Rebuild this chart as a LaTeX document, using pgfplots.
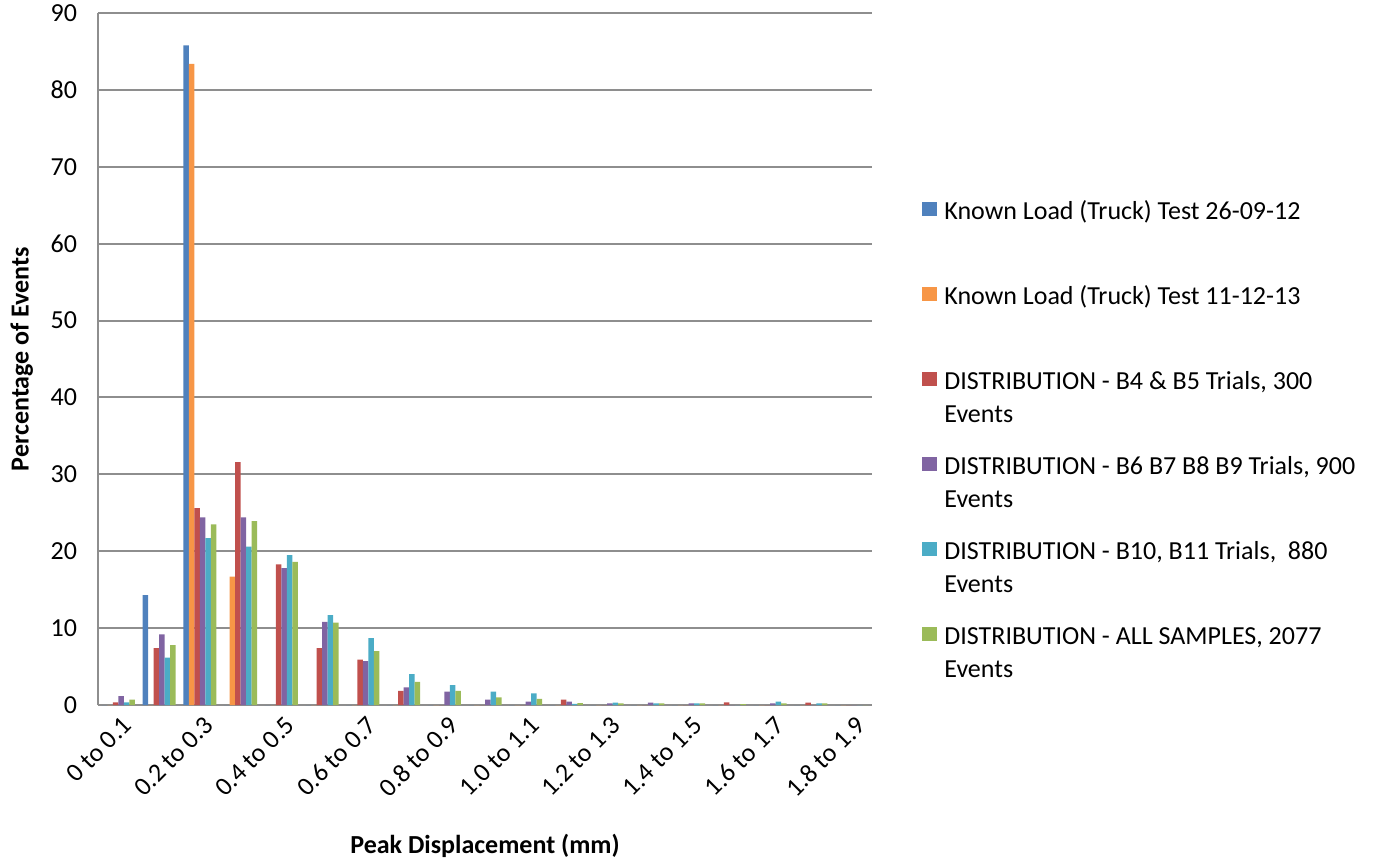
\documentclass[border=0pt]{standalone}
\usepackage{pgfplots}
\pgfplotsset{compat=1.18}
\usepackage{pgfplotstable}
\usepackage{fontspec}
\setmainfont{Carlito}
\definecolor{sA}{HTML}{4F81BD}
\definecolor{sB}{HTML}{F79646}
\definecolor{sC}{HTML}{C0504D}
\definecolor{sD}{HTML}{8064A2}
\definecolor{sE}{HTML}{4BACC6}
\definecolor{sF}{HTML}{9BBB59}
\definecolor{gridc}{HTML}{8E8E8E}
\pgfplotstableread{
x  a     b     c     d     e     f
0  0     0     0.35  1.15  0.35  0.7
1  14.3  0     7.4   9.2   6.15  7.8
2  85.8  83.4  25.6  24.4  21.7  23.5
3  0     16.7  31.6  24.4  20.6  23.9
4  0     0     18.3  17.8  19.5  18.6
5  0     0     7.4   10.8  11.7  10.7
6  0     0     5.9   5.7   8.7   7.0
7  0     0     1.85  2.3   4.0   3.0
8  0     0     0     1.75  2.6   1.85
9  0     0     0     0.7   1.75  1.0
10 0     0     0     0.45  1.5   0.8
11 0     0     0.7   0.45  0.15  0.25
12 0     0     0     0.2   0.3   0.2
13 0     0     0     0.3   0.2   0.2
14 0     0     0     0.2   0.2   0.2
15 0     0     0.35  0     0     0.1
16 0     0     0     0.2   0.45  0.2
17 0     0     0.3   0     0.2   0.2
18 0     0     0     0     0     0
}\datatab
\begin{document}
\fontsize{13pt}{16.7pt}\selectfont
\begin{tikzpicture}
\begin{axis}[
  scale only axis,
  width=387pt, height=346pt,
  at={(0,0)}, anchor=south west,
  ybar=0pt, bar width=2.75pt,
  xmin=-0.5, xmax=18.5,
  ymin=0, ymax=90,
  ytick={0,10,...,90},
  xtick={0,2,...,18},
  xticklabels={0 to 0.1,0.2 to 0.3,0.4 to 0.5,0.6 to 0.7,0.8 to 0.9,1.0 to 1.1,1.2 to 1.3,1.4 to 1.5,1.6 to 1.7,1.8 to 1.9},
  xticklabel style={rotate=45, anchor=north east, xshift=2pt, font=\fontsize{13pt}{15pt}\selectfont},
  yticklabel style={xshift=-6pt, font=\fontsize{13pt}{15pt}\selectfont},
  /pgf/number format/assume math mode=true,
  major tick length=0pt,
  axis x line*=bottom, axis y line*=left,
  axis line style={gridc, line width=1pt},
  ymajorgrids, grid style={gridc, line width=1pt},
  xlabel={\textbf{Peak Displacement (mm)}},
  ylabel={\textbf{Percentage of Events}},
  xlabel style={at={(axis description cs:0.5,-0.203)}, anchor=center, font=\fontsize{13pt}{15pt}\selectfont},
  ylabel style={at={(axis description cs:-0.0985,0.5)}, anchor=center, rotate=0, font=\fontsize{13pt}{15pt}\selectfont},
  legend style={at={(1.0646,0.736)}, anchor=north west, draw=none, fill=none,
    inner sep=0pt, row sep=9.1pt, column sep=3.5pt,
    cells={anchor=base west},
    nodes={inner sep=0pt, text depth=, font=\fontsize{13pt}{16.7pt}\selectfont}},
  legend image code/.code={\fill[#1] (0pt,1.8pt) rectangle (7.5pt,8.8pt);},
]
\addplot[fill=sA, draw=none] table[x=x,y=a] {\datatab};
\addplot[fill=sB, draw=none] table[x=x,y=b] {\datatab};
\addplot[fill=sC, draw=none] table[x=x,y=c] {\datatab};
\addplot[fill=sD, draw=none] table[x=x,y=d] {\datatab};
\addplot[fill=sE, draw=none] table[x=x,y=e] {\datatab};
\addplot[fill=sF, draw=none] table[x=x,y=f] {\datatab};
\addlegendentry{\begin{tabular}[t]{@{}l@{}}Known Load (Truck) Test 26-09-12\\ \strut\end{tabular}}
\addlegendentry{\begin{tabular}[t]{@{}l@{}}Known Load (Truck) Test 11-12-13\\ \strut\end{tabular}}
\addlegendentry{\begin{tabular}[t]{@{}l@{}}DISTRIBUTION - B4 \& B5 Trials, 300\\Events\end{tabular}}
\addlegendentry{\begin{tabular}[t]{@{}l@{}}DISTRIBUTION - B6 B7 B8 B9 Trials, 900\\Events\end{tabular}}
\addlegendentry{\begin{tabular}[t]{@{}l@{}}DISTRIBUTION - B10, B11 Trials,\ \ 880\\Events\end{tabular}}
\addlegendentry{\begin{tabular}[t]{@{}l@{}}DISTRIBUTION - ALL SAMPLES, 2077\\Events\end{tabular}}
\end{axis}
\pgfresetboundingbox
\path[use as bounding box] (-49pt,-78pt) rectangle (638pt,352.5pt);
\end{tikzpicture}
\end{document}
